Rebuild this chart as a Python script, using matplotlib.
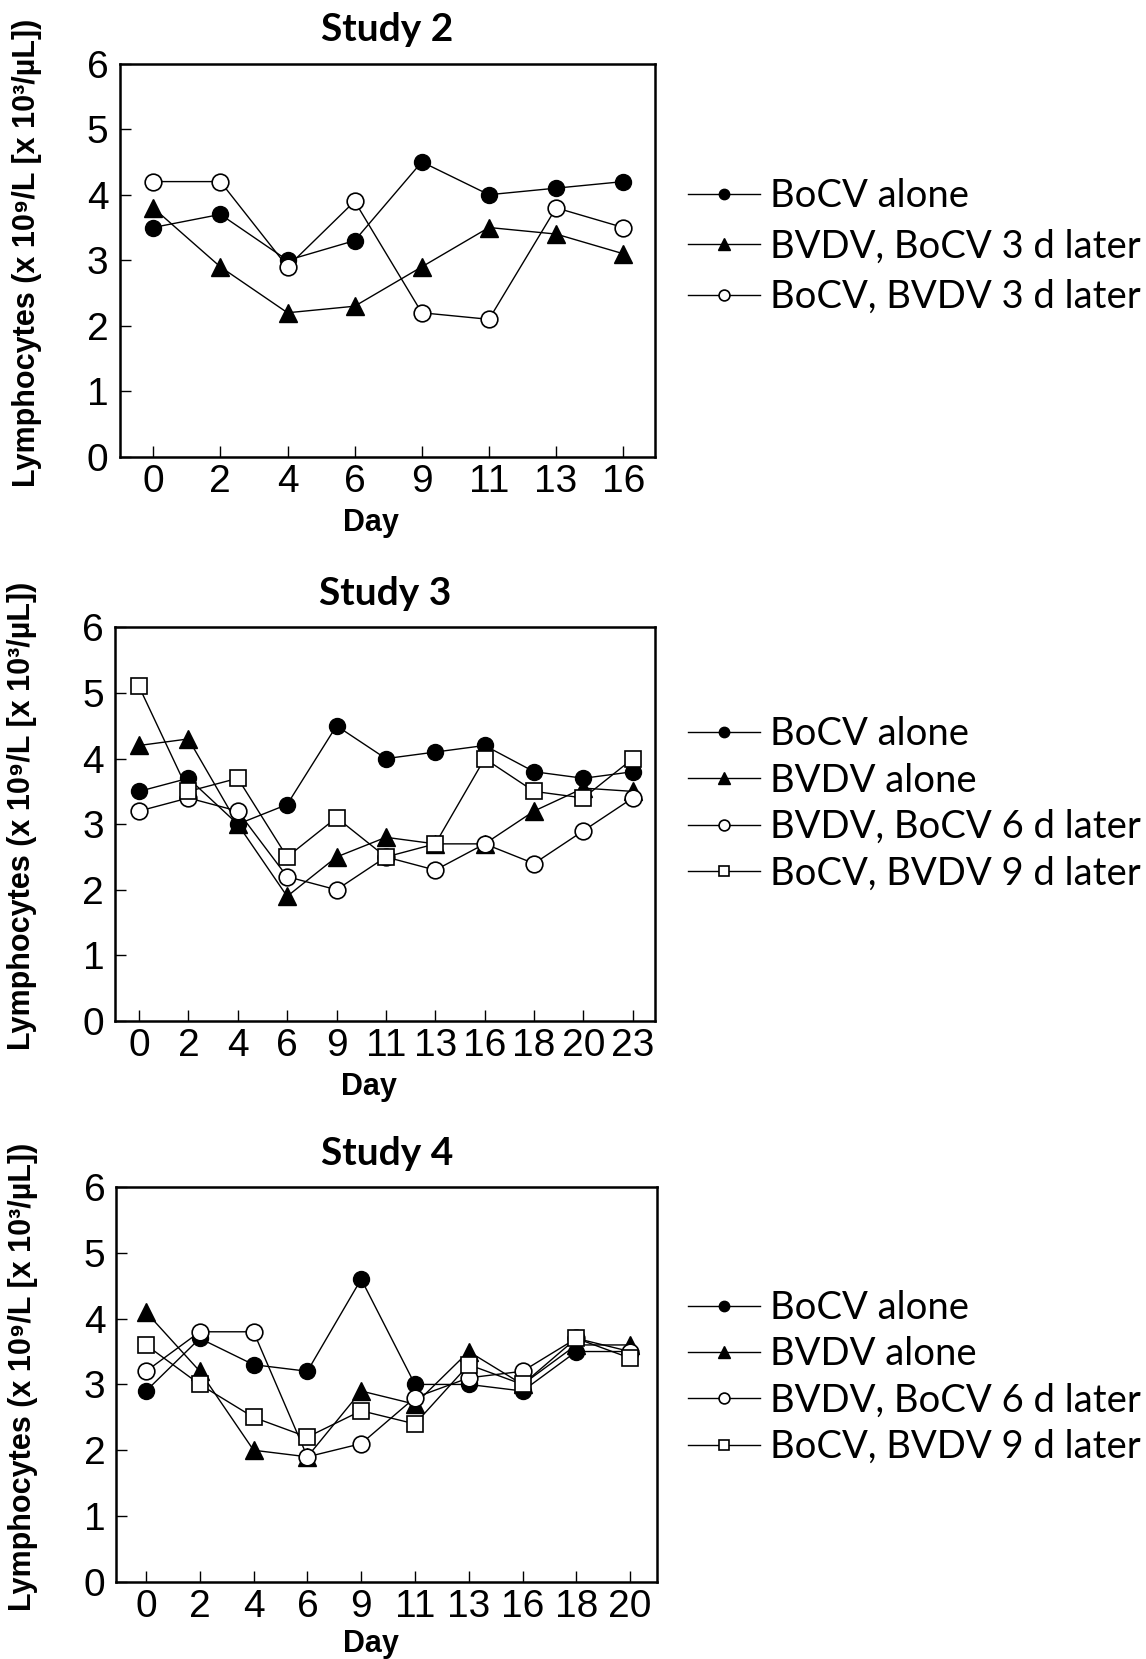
# Lymphocyte counts over time - three studies
import matplotlib.pyplot as plt

# Study 2 data
days2 = ["0", "2", "4", "6", "9", "11", "13", "16"]
s2_bocv_alone = [3.5, 3.7, 3.0, 3.3, 4.5, 4.0, 4.1, 4.2]
s2_bvdv_bocv3 = [3.8, 2.9, 2.2, 2.3, 2.9, 3.5, 3.4, 3.1]
s2_bocv_bvdv3 = [4.2, 4.2, 2.9, 3.9, 2.2, 2.1, 3.8, 3.5]

# Study 3 data
days3 = ["0", "2", "4", "6", "9", "11", "13", "16", "18", "20", "23"]
s3_bocv_alone = [3.5, 3.7, 3.0, 3.3, 4.5, 4.0, 4.1, 4.2, 3.8, 3.7, 3.8]
s3_bvdv_alone = [4.2, 4.3, 3.0, 1.9, 2.5, 2.8, 2.7, 2.7, 3.2, 3.55, 3.5]
s3_bvdv_bocv6 = [3.2, 3.4, 3.2, 2.2, 2.0, 2.5, 2.3, 2.7, 2.4, 2.9, 3.4]
s3_bocv_bvdv9 = [5.1, 3.5, 3.7, 2.5, 3.1, 2.5, 2.7, 4.0, 3.5, 3.4, 4.0]

# Study 4 data
days4 = ["0", "2", "4", "6", "9", "11", "13", "16", "18", "20"]
s4_bocv_alone = [2.9, 3.7, 3.3, 3.2, 4.6, 3.0, 3.0, 2.9, 3.5, 3.5]
s4_bvdv_alone = [4.1, 3.2, 2.0, 1.9, 2.9, 2.7, 3.5, 3.0, 3.6, 3.6]
s4_bvdv_bocv6 = [3.2, 3.8, 3.8, 1.9, 2.1, 2.8, 3.1, 3.2, 3.7, 3.5]
s4_bocv_bvdv9 = [3.6, 3.0, 2.5, 2.2, 2.6, 2.4, 3.3, 3.0, 3.7, 3.4]

lab_bocv_alone = "BoCV alone"
lab_bvdv_alone = "BVDV alone"

arial = ["Liberation Sans", "DejaVu Sans"]
calibri = ["Lato", "DejaVu Sans"]

# marker styles: filled circle, filled triangle, open circle, open square
styles = {
    "fcircle": dict(marker="o", ms=11.5, mfc="black", mec="black"),
    "ftri": dict(marker="^", ms=13, mfc="black", mec="black"),
    "ocircle": dict(marker="o", ms=12, mfc="white", mec="black", mew=1.2),
    "osquare": dict(marker="s", ms=12, mfc="white", mec="black", mew=1.2),
}

fig = plt.figure(figsize=(11.46, 16.59), dpi=100)

panels = [
    dict(title="Study 2", days=days2, rect=[0.1044, 0.7245, 0.467, 0.2372], xlim=(-0.5, 7.47),
         series=[(s2_bocv_alone, "fcircle", lab_bocv_alone),
                 (s2_bvdv_bocv3, "ftri", "BVDV, BoCV 3 d later"),
                 (s2_bocv_bvdv3, "ocircle", "BoCV, BVDV 3 d later")],
         leg_y=0.8514, spacing=0.38, day_y=-0.13),
    dict(title="Study 3", days=days3, rect=[0.1006, 0.3846, 0.471, 0.2372], xlim=(-0.48, 10.45),
         series=[(s3_bocv_alone, "fcircle", lab_bocv_alone),
                 (s3_bvdv_alone, "ftri", lab_bvdv_alone),
                 (s3_bvdv_bocv6, "ocircle", "BVDV, BoCV 6 d later"),
                 (s3_bocv_bvdv9, "osquare", "BoCV, BVDV 9 d later")],
         leg_y=0.5154, spacing=0.27, day_y=-0.13),
    dict(title="Study 4", days=days4, rect=[0.1016, 0.0465, 0.4717, 0.238], xlim=(-0.55, 9.5),
         series=[(s4_bocv_alone, "fcircle", lab_bocv_alone),
                 (s4_bvdv_alone, "ftri", lab_bvdv_alone),
                 (s4_bvdv_bocv6, "ocircle", "BVDV, BoCV 6 d later"),
                 (s4_bocv_bvdv9, "osquare", "BoCV, BVDV 9 d later")],
         leg_y=0.1697, spacing=0.27, day_y=-0.12),
]

for p in panels:
    ax = fig.add_axes(p["rect"])
    x = list(range(len(p["days"])))
    for vals, st, lab in p["series"]:
        ax.plot(x, vals, color="black", lw=1.0, label=lab, **styles[st])

    ax.set_xlim(*p["xlim"])
    ax.set_ylim(0, 6)
    ax.set_xticks(x)
    ax.set_xticklabels(p["days"])
    ax.set_yticks(range(7))
    for sp in ax.spines.values():
        sp.set_linewidth(1.8)
    ax.tick_params(direction="in", length=8, width=1.0, labelsize=28, pad=5)
    ax.tick_params(axis="y", pad=8)
    for t in ax.get_xticklabels() + ax.get_yticklabels():
        t.set_family(arial)

    ax.set_title(p["title"], fontsize=28, fontweight="bold", family=calibri, pad=16)
    ax.set_xlabel("Day", fontsize=22, fontweight="bold", family=arial)
    ax.xaxis.set_label_coords(0.47, p["day_y"])
    ax.set_ylabel("Lymphocytes (x 10⁹/L [x 10³/µL])", fontsize=22, fontweight="bold", family=arial)
    ax.yaxis.set_label_coords(-0.145, 0.52)

    ax.legend(loc="center left", bbox_to_anchor=(0.6, p["leg_y"]), bbox_transform=fig.transFigure,
              frameon=False, borderpad=0, borderaxespad=0, handlelength=1.9, handletextpad=0.25,
              labelspacing=p["spacing"], markerscale=0.65, prop=dict(family=calibri, size=27.5))

fig.savefig("out.png", dpi=100)
